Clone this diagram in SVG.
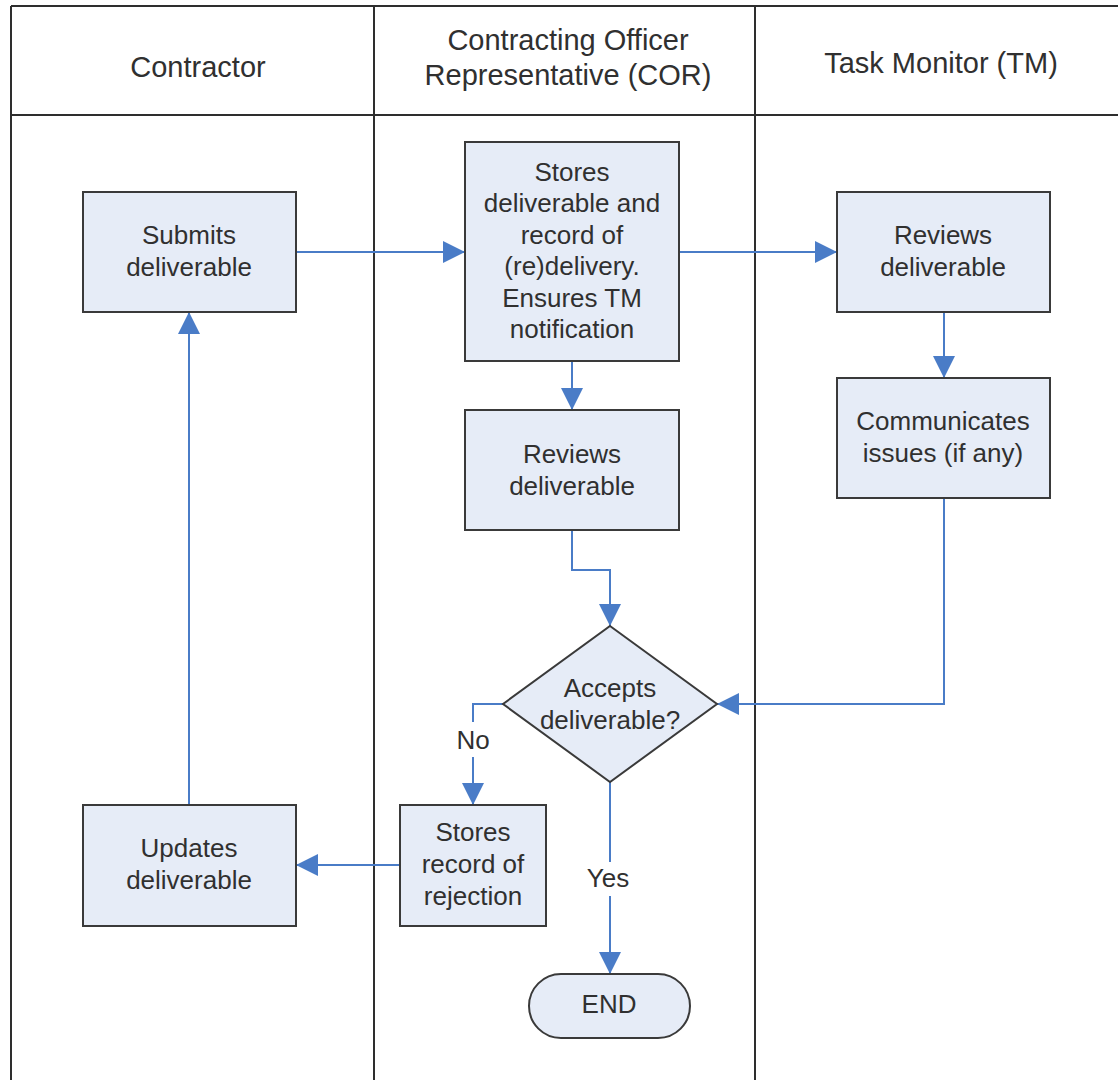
<svg xmlns="http://www.w3.org/2000/svg" width="1118" height="1080" viewBox="0 0 1118 1080">
<style>
.lane{stroke:#2e2e2e;stroke-width:2;fill:none}
.box{fill:#e6ecf7;stroke:#3a3a3a;stroke-width:2}
.t{font-family:"Liberation Sans",Arial,sans-serif;font-size:26px;fill:#303030;text-anchor:middle}
.h{font-family:"Liberation Sans",Arial,sans-serif;font-size:29px;fill:#303030;text-anchor:middle}
.c{fill:none;stroke:#4a7cc7;stroke-width:2}
</style>
<defs>
<marker id="ah" markerUnits="userSpaceOnUse" markerWidth="22" markerHeight="22" viewBox="0 0 20 20" refX="20" refY="10" orient="auto">
<path d="M0,0 L20,10 L0,20 Z" fill="#4a7cc7"/>
</marker>
</defs>
<rect width="1118" height="1080" fill="#ffffff"/>
<g id="lanes">
<line class="lane" x1="11" y1="6" x2="1118" y2="6"/>
<line class="lane" x1="11" y1="115" x2="1118" y2="115"/>
<line class="lane" x1="11" y1="6" x2="11" y2="1080"/>
<line class="lane" x1="374" y1="6" x2="374" y2="1080"/>
<line class="lane" x1="755" y1="6" x2="755" y2="1080"/>
<text class="h" x="198" y="77">Contractor</text>
<text class="h" x="568" y="50">Contracting Officer</text>
<text class="h" x="568" y="85">Representative (COR)</text>
<text class="h" x="941" y="73">Task Monitor (TM)</text>
</g>
<g id="connectors">
<line class="c" x1="296" y1="252" x2="465" y2="252" marker-end="url(#ah)"/>
<line class="c" x1="679" y1="252" x2="837" y2="252" marker-end="url(#ah)"/>
<line class="c" x1="572" y1="361" x2="572" y2="410" marker-end="url(#ah)"/>
<line class="c" x1="944" y1="312" x2="944" y2="378" marker-end="url(#ah)"/>
<polyline class="c" points="572,530 572,570 610,570 610,626" marker-end="url(#ah)"/>
<polyline class="c" points="944,498 944,704 717,704" marker-end="url(#ah)"/>
<polyline class="c" points="503,704 473,704 473,722"/>
<line class="c" x1="473" y1="757" x2="473" y2="805" marker-end="url(#ah)"/>
<text class="t" x="473" y="749">No</text>
<line class="c" x1="610" y1="782" x2="610" y2="862"/>
<line class="c" x1="610" y1="896" x2="610" y2="974" marker-end="url(#ah)"/>
<text class="t" x="608" y="887">Yes</text>
<line class="c" x1="400" y1="865" x2="296" y2="865" marker-end="url(#ah)"/>
<line class="c" x1="189" y1="805" x2="189" y2="312" marker-end="url(#ah)"/>
</g>
<g id="submits">
<rect class="box" x="83" y="192" width="213" height="120"/>
<text class="t" x="189" y="244">Submits</text>
<text class="t" x="189" y="276">deliverable</text>
</g>
<g id="stores">
<rect class="box" x="465" y="142" width="214" height="219"/>
<text class="t" x="572" y="181">Stores</text>
<text class="t" x="572" y="212">deliverable and</text>
<text class="t" x="572" y="244">record of</text>
<text class="t" x="572" y="275">(re)delivery.</text>
<text class="t" x="572" y="307">Ensures TM</text>
<text class="t" x="572" y="338">notification</text>
</g>
<g id="tm-review">
<rect class="box" x="837" y="192" width="213" height="120"/>
<text class="t" x="943" y="244">Reviews</text>
<text class="t" x="943" y="276">deliverable</text>
</g>
<g id="communicates">
<rect class="box" x="837" y="378" width="213" height="120"/>
<text class="t" x="943" y="430">Communicates</text>
<text class="t" x="943" y="462">issues (if any)</text>
</g>
<g id="cor-review">
<rect class="box" x="465" y="410" width="214" height="120"/>
<text class="t" x="572" y="463">Reviews</text>
<text class="t" x="572" y="495">deliverable</text>
</g>
<g id="decision">
<polygon class="box" points="610,626 717,704 610,782 503,704"/>
<text class="t" x="610" y="697">Accepts</text>
<text class="t" x="610" y="729">deliverable?</text>
</g>
<g id="rejection">
<rect class="box" x="400" y="805" width="146" height="121"/>
<text class="t" x="473" y="841">Stores</text>
<text class="t" x="473" y="873">record of</text>
<text class="t" x="473" y="905">rejection</text>
</g>
<g id="updates">
<rect class="box" x="83" y="805" width="213" height="121"/>
<text class="t" x="189" y="857">Updates</text>
<text class="t" x="189" y="889">deliverable</text>
</g>
<g id="end">
<rect class="box" x="529" y="974" width="161" height="64" rx="32" ry="32"/>
<text class="t" x="609" y="1013">END</text>
</g>
</svg>
